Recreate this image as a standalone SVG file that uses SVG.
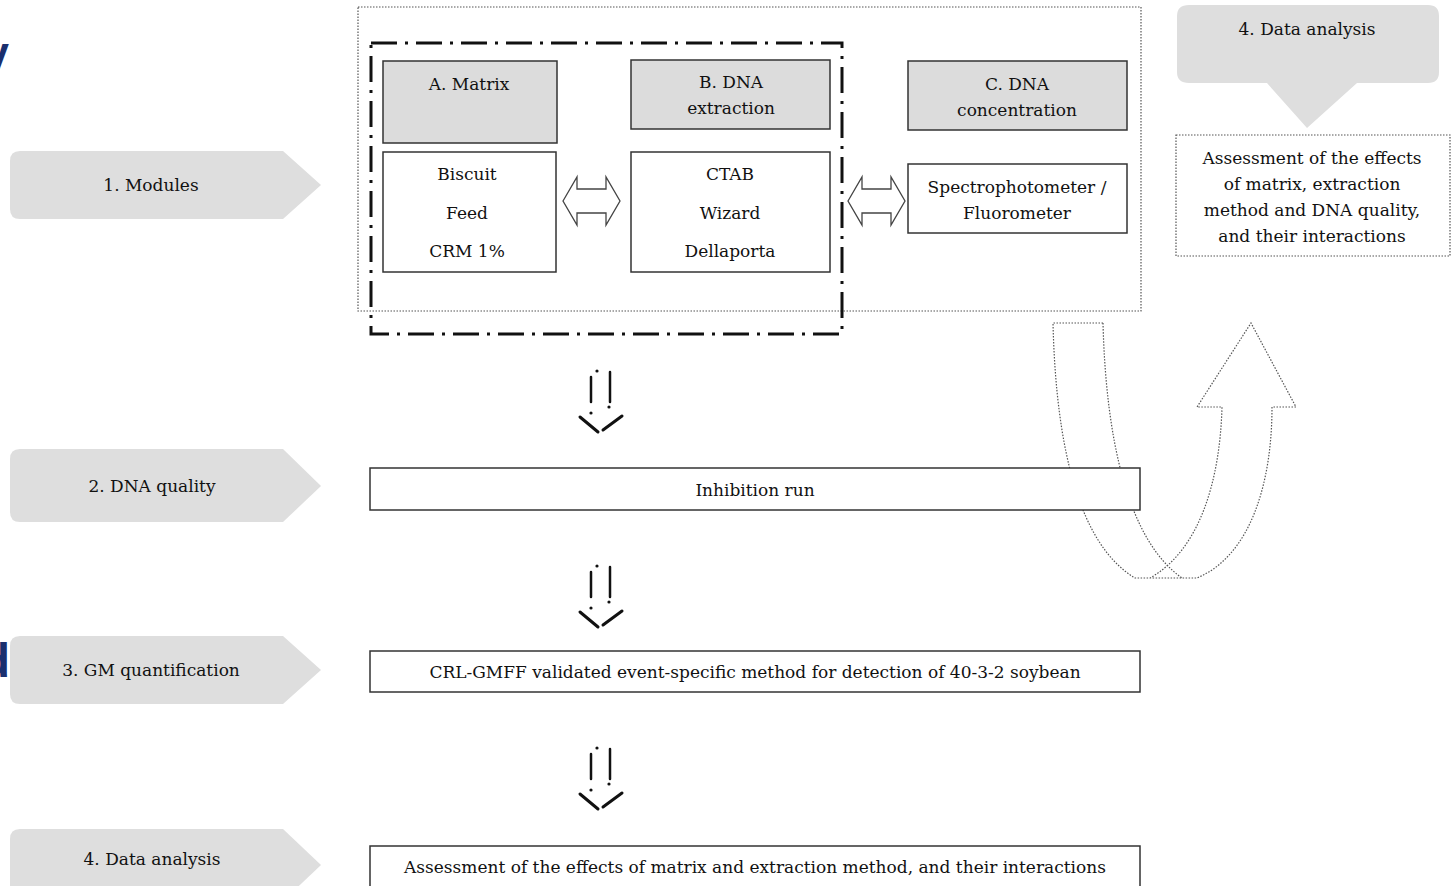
<svg xmlns="http://www.w3.org/2000/svg" width="1454" height="886" viewBox="0 0 1454 886">
  <style>
    .t { font-family: "DejaVu Serif", "Liberation Serif", serif; font-size: 17px; fill: #111; text-anchor: middle; }
    .box { fill: #fff; stroke: #333; stroke-width: 1.5; }
    .head { fill: #dcdcdc; stroke: #333; stroke-width: 1.5; }
    .chev { fill: #dedede; }
    .dotted { fill: none; stroke: #555; stroke-width: 1.2; stroke-dasharray: 1.5 1.5; }
    .dbl { fill: #fff; stroke: #444; stroke-width: 1.3; }
    .blue { font-family: "Liberation Sans", Arial, sans-serif; font-weight: bold; fill: #1a2f6e; text-anchor: end; }
  </style>
  <defs>
    <!-- dash-dot outlined down arrow -->
    <g id="downArrow" stroke="#111" fill="#111" stroke-linecap="round">
      <circle cx="597" cy="371" r="1.6" stroke="none"/>
      <line x1="591" y1="377" x2="591" y2="402" stroke-width="2.5"/>
      <line x1="610" y1="372" x2="610" y2="402" stroke-width="2.5"/>
      <circle cx="591" cy="413" r="1.6" stroke="none"/>
      <circle cx="609" cy="407" r="1.6" stroke="none"/>
      <line x1="580" y1="417" x2="598" y2="432" stroke-width="3"/>
      <line x1="603" y1="430" x2="622" y2="416" stroke-width="3"/>
    </g>
    <path id="dblArrow" d="M0,24 L14,0 L14,12 L43,12 L43,0 L57,24 L43,48 L43,36 L14,36 L14,48 Z"/>
  </defs>

  <rect width="1454" height="886" fill="#fff"/>

  <!-- partial title glyphs at the left edge -->
  <text class="blue" x="9" y="68" font-size="44">y</text>
  <text class="blue" x="10" y="677" font-size="48">d</text>

  <!-- step chevrons -->
  <g id="step1">
    <path class="chev" d="M20,151 H283 L321,185 L283,219 H20 Q10,219 10,209 V161 Q10,151 20,151 Z"/>
    <text class="t" x="151" y="191">1. Modules</text>
  </g>
  <g id="step2">
    <path class="chev" d="M20,449 H283 L321,486 L283,522 H20 Q10,522 10,512 V459 Q10,449 20,449 Z"/>
    <text class="t" x="152" y="492">2. DNA quality</text>
  </g>
  <g id="step3">
    <path class="chev" d="M20,636 H283 L321,670 L283,704 H20 Q10,704 10,694 V646 Q10,636 20,636 Z"/>
    <text class="t" x="151" y="676">3. GM quantification</text>
  </g>
  <g id="step4">
    <path class="chev" d="M20,829 H283 L321,865 L283,901 H20 Q10,901 10,891 V839 Q10,829 20,829 Z"/>
    <text class="t" x="152" y="865">4. Data analysis</text>
  </g>

  <!-- U-turn feedback arrow (drawn behind the inhibition box) -->
  <g id="feedback">
    <path class="dotted" d="M1103,323 L1053,323 C1056,450 1080,545 1135,578 L1197,578 C1252,555 1272,480 1272,407 L1296,407 L1251,323 L1197,407 L1222,407 C1220,480 1200,550 1150,578"/>
    <path class="dotted" d="M1103,323 C1106,440 1128,540 1182,578"/>
  </g>

  <!-- module container -->
  <g id="modules">
    <rect class="dotted" x="358" y="7" width="783" height="304"/>
    <rect x="371" y="43" width="471" height="291" fill="none" stroke="#111" stroke-width="3" stroke-dasharray="26 8 3 8"/>
  </g>

  <g id="matrix">
    <rect class="head" x="383" y="61" width="174" height="82"/>
    <text class="t" x="469" y="90">A. Matrix</text>
    <rect class="box" x="383" y="152" width="173" height="120"/>
    <text class="t" x="467" y="180">Biscuit</text>
    <text class="t" x="467" y="219">Feed</text>
    <text class="t" x="467" y="257">CRM 1%</text>
  </g>

  <g id="extraction">
    <rect class="head" x="631" y="60" width="199" height="69"/>
    <text class="t" x="731" y="88">B. DNA</text>
    <text class="t" x="731" y="114">extraction</text>
    <rect class="box" x="631" y="152" width="199" height="120"/>
    <text class="t" x="730" y="180">CTAB</text>
    <text class="t" x="730" y="219">Wizard</text>
    <text class="t" x="730" y="257">Dellaporta</text>
  </g>

  <g id="concentration">
    <rect class="head" x="908" y="61" width="219" height="69"/>
    <text class="t" x="1017" y="90">C. DNA</text>
    <text class="t" x="1017" y="116">concentration</text>
    <rect class="box" x="908" y="164" width="219" height="69"/>
    <text class="t" x="1017" y="193">Spectrophotometer /</text>
    <text class="t" x="1017" y="219">Fluorometer</text>
  </g>

  <!-- top-right analysis callout -->
  <g id="analysis-callout">
    <path fill="#dedede" d="M1189,5 H1428 Q1439,5 1439,16 V72 Q1439,83 1428,83 H1357 L1307,128 L1267,83 H1189 Q1177,83 1177,72 V16 Q1177,5 1189,5 Z"/>
    <text class="t" x="1307" y="35">4. Data analysis</text>
    <rect class="dotted" x="1176" y="135" width="274" height="121" fill="#fff"/>
    <text class="t" x="1312" y="164">Assessment of the effects</text>
    <text class="t" x="1312" y="190">of matrix, extraction</text>
    <text class="t" x="1312" y="216">method and DNA quality,</text>
    <text class="t" x="1312" y="242">and their interactions</text>
  </g>

  <g id="inhibition">
    <rect class="box" x="370" y="468" width="770" height="42"/>
    <text class="t" x="755" y="496">Inhibition run</text>
  </g>

  <g id="quantification">
    <rect class="box" x="370" y="651" width="770" height="41"/>
    <text class="t" x="755" y="678">CRL-GMFF validated event-specific method for detection of 40-3-2 soybean</text>
  </g>

  <g id="assessment">
    <rect class="box" x="370" y="846" width="770" height="60"/>
    <text class="t" x="755" y="873">Assessment of the effects of matrix and extraction method, and their interactions</text>
  </g>

  <!-- connectors -->
  <g id="connectors">
    <use href="#dblArrow" x="563" y="177" class="dbl"/>
    <use href="#dblArrow" x="848" y="177" class="dbl"/>
    <use href="#downArrow"/>
    <use href="#downArrow" y="195"/>
    <use href="#downArrow" y="377"/>
  </g>
</svg>
